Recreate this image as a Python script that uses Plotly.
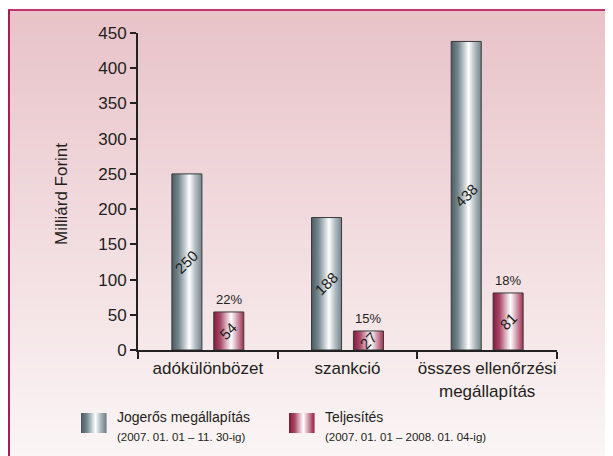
import plotly.graph_objects as go

# data
categories = ["adókülönbözet", "szankció", "összes ellenőrzési<br>megállapítás"]
jogeros = [250, 188, 438]
teljesites = [54, 27, 81]
teljesites_pct = ["22%", "15%", "18%"]
y_ticks = [0, 50, 100, 150, 200, 250, 300, 350, 400, 450]

series_names = ["Jogerős megállapítás", "Teljesítés"]
series_periods = ["(2007. 01. 01 – 11. 30-ig)", "(2007. 01. 01 – 2008. 01. 04-ig)"]

FONT = "Liberation Sans, Arial, sans-serif"
INK = "#231f20"

# the page has an 8px body margin, so the figure starts at (8, 8) in the window
O = 8
W, H = 605, 448
ML, MR, MT, MB = 130, 56, 25, 106
PW, PH = W - ML - MR, H - MT - MB

grey_scale = [[0, "#4b5c64"], [0.22, "#74858c"], [0.45, "#c9d2d6"],
              [0.58, "#ffffff"], [0.78, "#b3bec3"], [1, "#75858c"]]
red_scale = [[0, "#861a3c"], [0.22, "#a9496a"], [0.45, "#e2c2cd"],
             [0.58, "#ffffff"], [0.78, "#d39aad"], [1, "#9c3152"]]


# window pixel -> paper coordinate
def px2x(p):
    return (p - O - ML) / PW


def px2y(q):
    return (H - MB - (q - O)) / PH


def hex2rgb(h):
    h = h.lstrip("#")
    return [int(h[i:i + 2], 16) for i in (0, 2, 4)]


def sample(scale, t):
    for (a, ca), (b, cb) in zip(scale[:-1], scale[1:]):
        if a <= t <= b:
            f = 0 if b == a else (t - a) / (b - a)
            c1, c2 = hex2rgb(ca), hex2rgb(cb)
            return "rgb(%d,%d,%d)" % tuple(round(c1[i] + (c2[i] - c1[i]) * f) for i in range(3))
    return scale[-1][1]


fig = go.Figure()

bar_w = 0.215
offsets = [-0.15, 0.15]
for values, off, scale in [(jogeros, offsets[0], grey_scale), (teljesites, offsets[1], red_scale)]:
    for i, v in enumerate(values):
        xc = i + off
        fig.add_trace(go.Scatter(
            x=[xc - bar_w / 2, xc + bar_w / 2, xc + bar_w / 2, xc - bar_w / 2, xc - bar_w / 2],
            y=[0, 0, v, v, 0],
            mode="lines", fill="toself",
            fillgradient=dict(type="horizontal", colorscale=scale),
            line=dict(color="#3a3a3a", width=1),
            hoverinfo="skip", showlegend=False,
        ))

annotations = []
for values, off in [(jogeros, offsets[0]), (teljesites, offsets[1])]:
    for i, v in enumerate(values):
        annotations.append(dict(x=i + off, y=v / 2, text=str(v), showarrow=False,
                                textangle=-45, font=dict(family=FONT, size=15, color=INK)))
for i, (v, p) in enumerate(zip(teljesites, teljesites_pct)):
    annotations.append(dict(x=i + offsets[1], y=v, text=p, showarrow=False, yanchor="bottom",
                            yshift=3, font=dict(family=FONT, size=13, color=INK)))

annotations.append(dict(xref="paper", yref="paper", x=px2x(62), y=px2y(194), text="Milliárd Forint",
                        xanchor="center", yanchor="middle",
                        showarrow=False, textangle=-90, font=dict(family=FONT, size=17, color=INK)))

# legend, drawn by hand
shapes = []
for k, (sx, scale) in enumerate([(81, grey_scale), (289, red_scale)]):
    n = 25
    for j in range(n):
        shapes.append(dict(type="rect", xref="paper", yref="paper", layer="above",
                           x0=px2x(sx + j), x1=px2x(sx + j + 1.6), y0=px2y(433), y1=px2y(413),
                           fillcolor=sample(scale, j / (n - 1)), line=dict(width=0)))
    tx = sx + 34
    annotations.append(dict(xref="paper", yref="paper", x=px2x(tx), y=px2y(417),
                            xanchor="left", yanchor="middle",
                            text=series_names[k], showarrow=False,
                            font=dict(family=FONT, size=14, color=INK)))
    annotations.append(dict(xref="paper", yref="paper", x=px2x(tx), y=px2y(437),
                            xanchor="left", yanchor="middle",
                            text=series_periods[k], showarrow=False,
                            font=dict(family=FONT, size=11.5, color=INK)))

# pink gradient panel behind everything
top_c, bot_c = (232, 195, 201), (251, 245, 245)
y_top = 10
y_bot = H + O + 2
nb = 90
step = (y_bot - y_top) / nb
for j in range(nb):
    f = j / (nb - 1)
    c = tuple(round(top_c[i] + (bot_c[i] - top_c[i]) * f) for i in range(3))
    shapes.append(dict(type="rect", xref="paper", yref="paper", layer="below",
                       x0=px2x(8), x1=px2x(W + O + 2), y0=px2y(y_top + j * step),
                       y1=px2y(min(y_top + (j + 1.5) * step, y_bot)),
                       fillcolor="rgb(%d,%d,%d)" % c, line=dict(width=0)))
shapes.append(dict(type="line", xref="paper", yref="paper", layer="below",
                   x0=px2x(8), x1=px2x(W + O + 2), y0=px2y(10), y1=px2y(10),
                   line=dict(color="#c4346c", width=2)))
shapes.append(dict(type="line", xref="paper", yref="paper", layer="below",
                   x0=px2x(9), x1=px2x(9), y0=px2y(10), y1=px2y(y_bot),
                   line=dict(color="#a81c55", width=2)))

fig.update_layout(
    width=W, height=H,
    margin=dict(l=ML, r=MR, t=MT, b=MB),
    paper_bgcolor="white", plot_bgcolor="rgba(0,0,0,0)",
    font=dict(family=FONT, size=17, color=INK),
    showlegend=False,
    annotations=annotations, shapes=shapes,
    xaxis=dict(range=[-0.5, 2.5], showgrid=False, zeroline=False,
               showline=True, linecolor="#222", linewidth=2,
               tickmode="array", tickvals=[0, 1, 2], ticktext=categories, ticks="",
               tickfont=dict(family=FONT, size=17, color=INK), ticklabelstandoff=2,
               minor=dict(tickmode="array", tickvals=[-0.5, 0.5, 1.5, 2.5], ticks="outside",
                          ticklen=7, tickwidth=2, tickcolor="#222", showgrid=False)),
    yaxis=dict(range=[0, 450], showgrid=False, zeroline=False,
               showline=True, linecolor="#222", linewidth=2,
               tickmode="array", tickvals=y_ticks, ticks="outside", ticklen=6, tickwidth=2,
               tickcolor="#222", tickfont=dict(family=FONT, size=17, color=INK)),
)

fig.write_html("out.html")
